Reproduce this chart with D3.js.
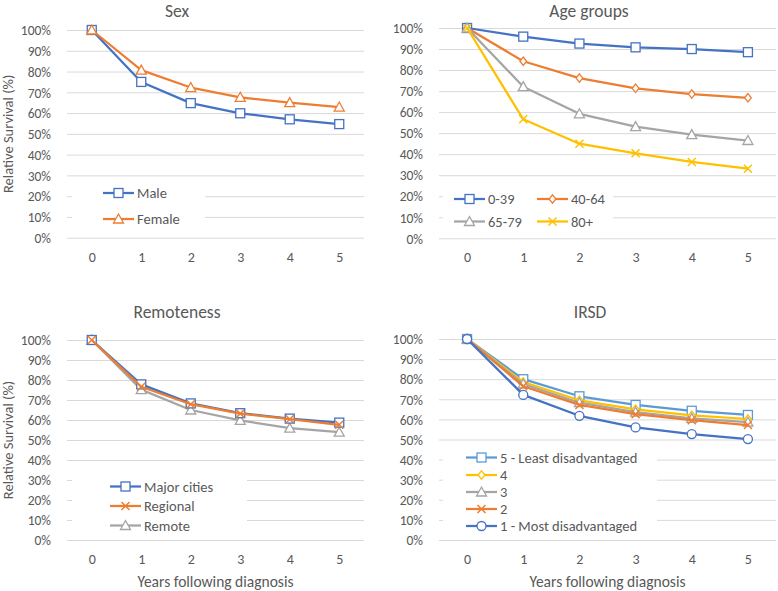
<!DOCTYPE html>
<html><head><meta charset="utf-8">
<script src="https://cdn.jsdelivr.net/npm/d3@7"></script>
<style>
body{margin:0;background:#fff;}
text{font-family:Carlito,Lato,"Liberation Sans",sans-serif;fill:#595959;}
</style></head>
<body><svg id="c" width="778" height="591"></svg>
<script>
const years = [0,1,2,3,4,5];
const yTicks = [0,10,20,30,40,50,60,70,80,90,100];

const sexNames = ["Male","Female"];
const sexMale = [100,75,64.8,59.9,57,54.7];
const sexFemale = [100,80.7,72.3,67.6,65,62.9];

const ageNames = ["0-39","40-64","65-79","80+"];
const age0_39 = [100,95.9,92.6,90.8,90,88.5];
const age40_64 = [100,84.2,76.2,71.3,68.6,66.8];
const age65_79 = [100,72.1,59.2,53.1,49.3,46.5];
const age80 = [100,56.6,45,40.4,36.3,33.1];

const remNames = ["Major cities","Regional","Remote"];
const remMajor = [100,77.8,68.3,63.4,60.7,58.7];
const remRegional = [100,76.6,67.9,63.2,60.4,57.6];
const remRemote = [100,75.2,65,59.8,55.9,53.9];

const irsdNames = ["5 - Least disadvantaged","4","3","2","1 - Most disadvantaged"];
const irsd5 = [100,80,71.5,67.2,64.3,62.2];
const irsd4 = [100,78.6,69.5,65,62,60.2];
const irsd3 = [100,77.6,68.3,63.6,60.5,58.6];
const irsd2 = [100,76.5,67.2,62.6,59.6,57.2];
const irsd1 = [100,72.2,61.8,56,52.7,50.2];

const C = {blue:"#4472C4", orange:"#ED7D31", gray:"#A5A5A5", yellow:"#FFC000", lblue:"#5B9BD5"};

const svg = d3.select("#c");

function marker(g, type, color, x, y){
  const s = 4.5;
  if(type==="square"){
    g.append("rect").attr("x",x-s).attr("y",y-s).attr("width",2*s).attr("height",2*s)
     .attr("fill","#fff").attr("stroke",color).attr("stroke-width",1.3);
  } else if(type==="triangle"){
    g.append("path").attr("d",`M${x},${y-s-0.5}L${x+s+0.5},${y+s-0.5}L${x-s-0.5},${y+s-0.5}Z`)
     .attr("fill","#fff").attr("stroke",color).attr("stroke-width",1.3);
  } else if(type==="diamond"){
    const d=4.2;
    g.append("path").attr("d",`M${x},${y-d}L${x+d*0.8},${y}L${x},${y+d}L${x-d*0.8},${y}Z`)
     .attr("fill","#fff").attr("stroke",color).attr("stroke-width",1.3);
  } else if(type==="circle"){
    g.append("circle").attr("cx",x).attr("cy",y).attr("r",s)
     .attr("fill","#fff").attr("stroke",color).attr("stroke-width",1.3);
  } else if(type==="x"){
    const d=4;
    g.append("path").attr("d",`M${x-d},${y-d}L${x+d},${y+d}M${x-d},${y+d}L${x+d},${y-d}`)
     .attr("fill","none").attr("stroke",color).attr("stroke-width",1.5);
  }
}

function panel(cfg){
  const g = svg.append("g");
  const x = d3.scalePoint().domain(years).range([cfg.x0,cfg.x1]).padding(0.5);
  const y = d3.scaleLinear().domain([0,100]).range([cfg.yb,cfg.yt]);
  const grid = g.append("g").attr("transform",`translate(${cfg.x0},0)`)
    .call(d3.axisLeft(y).tickValues(yTicks).tickSize(-(cfg.x1-cfg.x0)).tickFormat(""));
  grid.select(".domain").remove();
  grid.selectAll("line").attr("stroke","#D9D9D9").attr("stroke-width",1);
  const ya = g.append("g").attr("transform",`translate(${cfg.x0-13},0)`)
    .call(d3.axisLeft(y).tickValues(yTicks).tickSize(0).tickFormat(d=>d+"%"));
  ya.select(".domain").remove();
  ya.selectAll("text").attr("font-size",13.5).attr("fill","#595959").attr("dy","0.35em");
  const xa = g.append("g").attr("transform",`translate(0,${cfg.yb+11})`)
    .call(d3.axisBottom(x).tickSize(0));
  xa.select(".domain").remove();
  xa.selectAll("text").attr("font-size",14).attr("fill","#595959");
  g.append("text").attr("x",cfg.tx).attr("y",cfg.ty).attr("text-anchor","middle")
    .attr("font-size",17.5).attr("fill","#333").text(cfg.title);
  if(cfg.xTitle){
    g.append("text").attr("x",(cfg.x0+cfg.x1)/2).attr("y",cfg.yb+47).attr("text-anchor","middle")
      .attr("font-size",15.5).text(cfg.xTitle);
  }
  if(cfg.yTitle){
    g.append("text").attr("transform",`translate(13,${(cfg.yt+cfg.yb)/2}) rotate(-90)`)
      .attr("text-anchor","middle").attr("font-size",14.5).text(cfg.yTitle);
  }
  const L = cfg.legend;
  g.append("rect").attr("x",L.bx).attr("y",L.by).attr("width",L.bw).attr("height",L.bh).attr("fill","#fff");
  const line = d3.line().x((d,i)=>x(years[i])).y(d=>y(d));
  const order = cfg.drawOrder || cfg.series.map((s,i)=>i);
  order.forEach(i=>{
    const s = cfg.series[i];
    g.append("path").datum(s.values).attr("d",line).attr("fill","none")
      .attr("stroke",s.color).attr("stroke-width",2.25).attr("stroke-linejoin","round");
    s.values.forEach((v,j)=>marker(g,s.marker,s.color,x(years[j]),y(v)));
  });
  cfg.series.forEach((s,i)=>{
    const p = L.pos[i];
    g.append("line").attr("x1",p[0]).attr("x2",p[0]+L.len).attr("y1",p[1]).attr("y2",p[1])
      .attr("stroke",s.color).attr("stroke-width",2.25);
    marker(g,s.marker,s.color,p[0]+L.len/2,p[1]);
    g.append("text").attr("x",p[0]+L.len+3).attr("y",p[1]).attr("dy","0.35em")
      .attr("font-size",14.5).text(s.name);
  });
}

panel({
  title:"Sex", tx:177, ty:17, x0:67, x1:364, yt:30, yb:237.7, yTitle:"Relative Survival (%)",
  series:[
    {name:sexNames[0], values:sexMale, color:C.blue, marker:"square"},
    {name:sexNames[1], values:sexFemale, color:C.orange, marker:"triangle"}
  ],
  legend:{bx:72,by:180,bw:133,bh:52,len:31,pos:[[103,193],[103,219]]}
});

panel({
  title:"Age groups", tx:589, ty:17, x0:439, x1:776, yt:28, yb:238.3,
  series:[
    {name:ageNames[0], values:age0_39, color:C.blue, marker:"square"},
    {name:ageNames[1], values:age40_64, color:C.orange, marker:"diamond"},
    {name:ageNames[2], values:age65_79, color:C.gray, marker:"triangle"},
    {name:ageNames[3], values:age80, color:C.yellow, marker:"x"}
  ],
  legend:{bx:443,by:187,bw:170,bh:47,len:31,pos:[[454,199],[537,199],[454,221.5],[537,221.5]]}
});

panel({
  title:"Remoteness", tx:177, ty:318, x0:67, x1:364, yt:340, yb:540, yTitle:"Relative Survival (%)",
  xTitle:"Years following diagnosis",
  series:[
    {name:remNames[0], values:remMajor, color:C.blue, marker:"square"},
    {name:remNames[1], values:remRegional, color:C.orange, marker:"x"},
    {name:remNames[2], values:remRemote, color:C.gray, marker:"triangle"}
  ],
  drawOrder:[2,0,1],
  legend:{bx:72,by:476,bw:175,bh:60,len:31,pos:[[110,486.5],[110,506],[110,525.5]]}
});

panel({
  title:"IRSD", tx:590, ty:318, x0:439, x1:776, yt:339, yb:540,
  xTitle:"Years following diagnosis",
  series:[
    {name:irsdNames[0], values:irsd5, color:C.lblue, marker:"square"},
    {name:irsdNames[1], values:irsd4, color:C.yellow, marker:"diamond"},
    {name:irsdNames[2], values:irsd3, color:C.gray, marker:"triangle"},
    {name:irsdNames[3], values:irsd2, color:C.orange, marker:"x"},
    {name:irsdNames[4], values:irsd1, color:C.blue, marker:"circle"}
  ],
  legend:{bx:443,by:447,bw:214,bh:90,len:31,pos:[[466,457.5],[466,475],[466,492],[466,509],[466,526]]}
});
</script></body></html>
